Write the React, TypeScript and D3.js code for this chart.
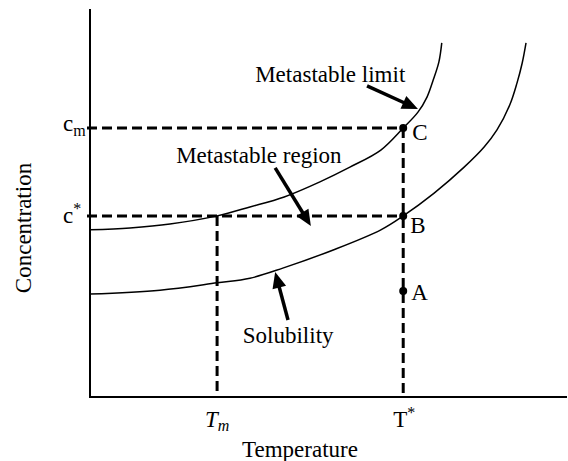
import React from "react";
import * as d3 from "d3";

// Curves: [temperature, concentration] in arbitrary units
const metastableLimit: [number, number][] = [
  [0, 43.2], [8.4, 43.7], [16.8, 44.7], [26.7, 46.8], [33.6, 49.1], [40.8, 51.7],
  [48.3, 55.6], [54.6, 59.4], [61.1, 63.8], [65.8, 69.5], [68.9, 73.6], [70.8, 77.5],
  [72.1, 81.9], [73.3, 86.6], [73.9, 91.5],
];
const solubility: [number, number][] = [
  [0, 26.6], [14.7, 27.6], [26.7, 29.5], [33.6, 30.7], [40.5, 33.3], [51.1, 38.0],
  [61.1, 43.2], [65.8, 46.8], [72.3, 52.7], [78.6, 59.4], [82.8, 64.6], [85.5, 69.0],
  [88.2, 75.5], [89.7, 81.1], [90.8, 86.3], [91.6, 91.5],
];

const T_m = 26.7;
const T_star = 65.8;
const c_m = 69.5;
const c_star = 46.8;
const c_A = 27.4;

const pointNames = ["C", "B", "A"];
const pointValues: [number, number][] = [[T_star, c_m], [T_star, c_star], [T_star, c_A]];

const annotationTexts = ["Metastable limit", "Metastable region", "Solubility"];
const annotationAnchors: [number, number][] = [[34.7, 81.4], [18.1, 60.5], [32.1, 14.0]];
const arrowTails: [number, number][] = [[58.2, 80.4], [38.9, 59.2], [41.6, 19.9]];
const arrowTips: [number, number][] = [[68.9, 74.4], [46.4, 44.2], [38.9, 32.3]];

const W = 568;
const H = 461;
const FONT = "'Liberation Serif', 'Times New Roman', serif";

export default function App() {
  const x = d3.scaleLinear().domain([0, 100]).range([90, 566]);
  const y = d3.scaleLinear().domain([0, 100]).range([397, 10]);
  const line = d3
    .line<[number, number]>()
    .x((d) => x(d[0]))
    .y((d) => y(d[1]))
    .curve(d3.curveCatmullRom.alpha(0.5));

  const arrow = (tail: [number, number], tip: [number, number], i: number) => {
    const x0 = x(tail[0]), y0 = y(tail[1]);
    const x1 = x(tip[0]), y1 = y(tip[1]);
    const dx = x1 - x0, dy = y1 - y0;
    const len = Math.hypot(dx, dy);
    const ux = dx / len, uy = dy / len;
    const nx = -uy, ny = ux;
    const hl = 16, hw = 7;
    const bx = x1 - ux * hl, by = y1 - uy * hl;
    return (
      <g key={"arr" + i}>
        <line x1={x0} y1={y0} x2={bx + ux * 2} y2={by + uy * 2} stroke="#000" strokeWidth={3.5} />
        <polygon
          points={`${x1},${y1} ${bx + nx * hw},${by + ny * hw} ${bx - nx * hw},${by - ny * hw}`}
          fill="#000"
        />
      </g>
    );
  };

  const labelOffsets: [number, number][] = [[9, 12], [7, 17], [8, 9]];

  return (
    <svg
      width={W}
      height={H}
      style={{ position: "absolute", left: 0, top: 0, background: "#fff" }}
      fontFamily={FONT}
    >
      {/* axes */}
      <line x1={x(0)} y1={y(100) - 1} x2={x(0)} y2={y(0)} stroke="#000" strokeWidth={2} />
      <line x1={x(0) - 1} y1={y(0)} x2={567} y2={y(0)} stroke="#000" strokeWidth={2} />

      {/* curves */}
      <path d={line(metastableLimit) || ""} fill="none" stroke="#000" strokeWidth={1.5} />
      <path d={line(solubility) || ""} fill="none" stroke="#000" strokeWidth={1.5} />

      {/* dashed guides */}
      <g stroke="#000" strokeWidth={3} strokeDasharray="10,5">
        <line x1={x(0) - 3} y1={y(c_m)} x2={x(T_star)} y2={y(c_m)} />
        <line x1={x(0) - 3} y1={y(c_star)} x2={x(T_star)} y2={y(c_star)} />
        <line x1={x(T_m)} y1={y(c_star)} x2={x(T_m)} y2={y(0)} />
        <line x1={x(T_star)} y1={y(c_m)} x2={x(T_star)} y2={y(0)} />
      </g>

      {/* points */}
      {pointValues.map((p, i) => (
        <g key={pointNames[i]}>
          <circle cx={x(p[0])} cy={y(p[1])} r={4} fill="#000" />
          <text x={x(p[0]) + labelOffsets[i][0]} y={y(p[1]) + labelOffsets[i][1]} fontSize={23}>
            {pointNames[i]}
          </text>
        </g>
      ))}

      {/* annotations */}
      {annotationTexts.map((t, i) => (
        <text key={t} x={x(annotationAnchors[i][0])} y={y(annotationAnchors[i][1])} fontSize={23}>
          {t}
        </text>
      ))}
      {arrowTails.map((t, i) => arrow(t, arrowTips[i], i))}

      {/* y tick labels */}
      <text x={63} y={y(c_m) + 3} fontSize={23}>
        c<tspan fontSize={16} dy={5}>m</tspan>
      </text>
      <text x={63} y={y(c_star) + 7} fontSize={23}>
        c<tspan fontSize={16} dy={-9}>*</tspan>
      </text>

      {/* x tick labels */}
      <text x={x(T_m)} y={427} fontSize={23} textAnchor="middle" fontStyle="italic">
        T<tspan fontSize={16} dy={4}>m</tspan>
      </text>
      <text x={x(T_star) + 1} y={427} fontSize={23} textAnchor="middle">
        T<tspan fontSize={16} dy={-9}>*</tspan>
      </text>

      {/* axis titles */}
      <text x={300} y={457} fontSize={23} textAnchor="middle">
        Temperature
      </text>
      <text
        transform={`translate(31,228) rotate(-90)`}
        fontSize={23}
        textAnchor="middle"
      >
        Concentration
      </text>
    </svg>
  );
}
